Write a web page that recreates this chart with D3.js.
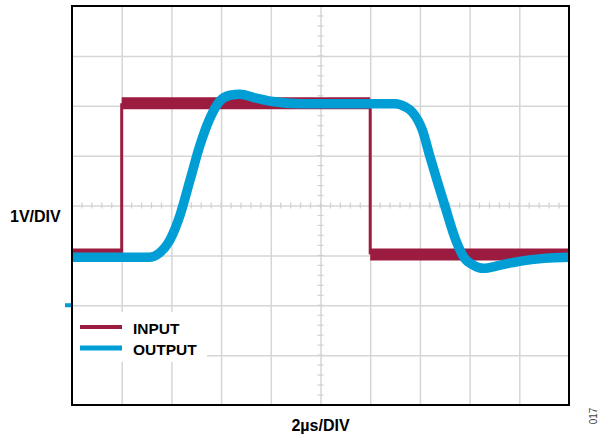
<!DOCTYPE html>
<html>
<head>
<meta charset="utf-8">
<script src="https://cdn.jsdelivr.net/npm/d3@7"></script>
<style>
  body { margin: 0; background: #fff; }
  svg text { font-family: "Liberation Sans", Arial, sans-serif; }
</style>
</head>
<body>
<div id="graph"></div>
<script>
// time in µs, voltage in V (1V/DIV, 2µs/DIV)
const inputEdges = [0, 2, 12, 20];
const inputLevels = [1.02, 4.05, 1.02];

const outputTime = [0, 3.1, 3.5, 3.94, 4.35, 4.75, 5.15, 5.55, 5.96, 6.36, 6.76, 7.35, 8.0, 9.2, 11.2, 13.0, 13.4, 13.7, 14.1, 14.4, 15.0, 15.45, 15.8, 16.1, 16.55, 17.2, 18.0, 19.0, 20];
const outputV = [0.96, 0.96, 1.04, 1.31, 1.81, 2.51, 3.21, 3.75, 4.10, 4.21, 4.23, 4.16, 4.09, 4.04, 4.04, 4.04, 3.98, 3.87, 3.51, 2.99, 2.00, 1.30, 0.94, 0.82, 0.74, 0.80, 0.88, 0.94, 0.96];

const legendLabels = ['INPUT', 'OUTPUT'];
const colors = ['#9c1c40', '#009ed5'];

const drawGraph = (width, height) => {
  const svg = d3.select('#graph')
                .append('svg')
                .attr('width', width)
                .attr('height', height);

  const left = 72, right = 569, top = 6, bottom = 405;

  const xScale = d3.scaleLinear()
                   .domain([0, 20])
                   .range([left, right]);

  const yScale = d3.scaleLinear()
                   .domain([-2, 6])
                   .range([bottom, top]);

  // grid
  svg.append('g')
     .attr('transform', `translate(0, ${bottom})`)
     .call(d3.axisBottom(xScale).tickValues(d3.range(2, 20, 2)).tickSize(-(bottom - top)).tickFormat(''))
     .call(g => g.select('.domain').remove())
     .call(g => g.selectAll('line').attr('stroke', '#d6d6d6').attr('stroke-width', 1.5));

  svg.append('g')
     .attr('transform', `translate(${left}, 0)`)
     .call(d3.axisLeft(yScale).tickValues(d3.range(-1, 6, 1)).tickSize(-(right - left)).tickFormat(''))
     .call(g => g.select('.domain').remove())
     .call(g => g.selectAll('line').attr('stroke', '#d6d6d6').attr('stroke-width', 1.5));

  // minor ticks on centre lines
  svg.append('g')
     .selectAll('line')
     .data(d3.range(0.4, 20, 0.4))
     .enter()
     .append('line')
     .attr('x1', d => xScale(d))
     .attr('x2', d => xScale(d))
     .attr('y1', yScale(2) - 3)
     .attr('y2', yScale(2) + 3)
     .attr('stroke', '#d0d0d0')
     .attr('stroke-width', 1.2);

  svg.append('g')
     .selectAll('line')
     .data(d3.range(-1.8, 6, 0.2))
     .enter()
     .append('line')
     .attr('x1', xScale(10) - 3)
     .attr('x2', xScale(10) + 3)
     .attr('y1', d => yScale(d))
     .attr('y2', d => yScale(d))
     .attr('stroke', '#d0d0d0')
     .attr('stroke-width', 1.2);

  // legend backdrop hides grid behind it
  svg.append('rect')
     .attr('x', left + 1)
     .attr('y', 312)
     .attr('width', 134)
     .attr('height', 50)
     .attr('fill', '#fff');

  // input: noisy levels as thick bands, edges thin
  svg.append('g')
     .selectAll('line')
     .data(inputLevels)
     .enter()
     .append('line')
     .attr('x1', (d, i) => xScale(inputEdges[i]))
     .attr('x2', (d, i) => xScale(inputEdges[i + 1]))
     .attr('y1', d => yScale(d))
     .attr('y2', d => yScale(d))
     .attr('stroke', colors[0])
     .attr('stroke-width', 12);

  svg.append('g')
     .selectAll('line')
     .data(inputEdges.slice(1, -1))
     .enter()
     .append('line')
     .attr('x1', d => xScale(d))
     .attr('x2', d => xScale(d))
     .attr('y1', (d, i) => yScale(inputLevels[i]))
     .attr('y2', (d, i) => yScale(inputLevels[i + 1]))
     .attr('stroke', colors[0])
     .attr('stroke-width', 3);

  // output
  const line = d3.line()
                 .x((d, i) => xScale(outputTime[i]))
                 .y(d => yScale(d))
                 .curve(d3.curveMonotoneX);

  svg.append('path')
     .datum(outputV)
     .attr('d', line)
     .attr('fill', 'none')
     .attr('stroke', colors[1])
     .attr('stroke-width', 9.5)
     .attr('stroke-linejoin', 'round');

  // frame
  svg.append('rect')
     .attr('x', left)
     .attr('y', top)
     .attr('width', right - left)
     .attr('height', bottom - top)
     .attr('fill', 'none')
     .attr('stroke', '#000')
     .attr('stroke-width', 2);

  // channel ground marker
  svg.append('line')
     .attr('x1', left - 7)
     .attr('x2', left - 1)
     .attr('y1', yScale(0))
     .attr('y2', yScale(0))
     .attr('stroke', colors[1])
     .attr('stroke-width', 4);

  // legend
  const legend = svg.append('g')
                    .selectAll('g')
                    .data(legendLabels)
                    .enter()
                    .append('g')
                    .attr('transform', (d, i) => `translate(80, ${327 + i * 21})`);

  legend.append('line')
        .attr('x1', 0)
        .attr('x2', 42)
        .attr('stroke', (d, i) => colors[i])
        .attr('stroke-width', (d, i) => i ? 5 : 4);

  legend.append('text')
        .attr('x', 53)
        .attr('y', 6.5)
        .attr('font-size', 15.5)
        .attr('font-weight', 'bold')
        .text(d => d);

  svg.append('text')
     .attr('x', 10)
     .attr('y', 222)
     .attr('font-size', 16)
     .attr('font-weight', 'bold')
     .text('1V/DIV');

  svg.append('text')
     .attr('x', xScale(10))
     .attr('y', 431)
     .attr('text-anchor', 'middle')
     .attr('font-size', 16)
     .attr('font-weight', 'bold')
     .text('2µs/DIV');

  svg.append('text')
     .attr('transform', 'translate(597, 416) rotate(-90)')
     .attr('text-anchor', 'middle')
     .attr('font-size', 10)
     .attr('fill', '#444')
     .text('017');
};

drawGraph(599, 442);
</script>
</body>
</html>
